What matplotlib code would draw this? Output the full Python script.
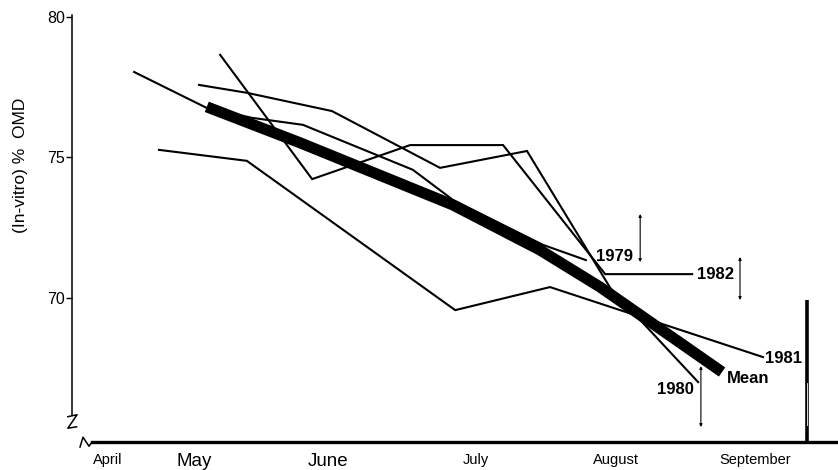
import numpy as np
import matplotlib
matplotlib.use('Agg')
import matplotlib.pyplot as plt

plt.rcParams['font.family'] = ['Liberation Sans', 'DejaVu Sans']

# x = days along the season, y = in-vitro OMD %
x_1979 = [13.5, 29.3, 39.1, 50.2, 74.1, 82.8, 102.4, 111.7]
y_1979 = [78.04, 76.76, 76.41, 76.16, 74.56, 73.49, 71.89, 71.35]

x_1980 = [27.6, 38.0, 56.5, 80.0, 98.9, 117.0, 123.5, 136.1]
y_1980 = [77.58, 77.30, 76.65, 74.63, 75.23, 70.36, 69.22, 67.01]

x_1981 = [18.9, 38.0, 83.3, 103.9, 150.2]
y_1981 = [75.27, 74.88, 69.57, 70.39, 67.90]

x_1982 = [32.2, 52.2, 73.5, 93.7, 115.9, 134.8]
y_1982 = [78.65, 74.23, 75.44, 75.44, 70.85, 70.85]

x_mean = [29.3, 49.6, 82.8, 101.7, 114.8, 123.5, 141.3]
y_mean = [76.80, 75.52, 73.31, 71.71, 70.39, 69.40, 67.37]

# range bars next to the end labels
range_x = [123.5, 145.2, 136.7]
range_lo = [71.28, 69.93, 65.41]
range_hi = [72.99, 71.46, 67.58]
big_x = 159.8
big_hi = 69.93

months = ['April', 'May', 'June', 'July', 'August', 'September']
month_pos = [7.8, 26.5, 55.7, 87.8, 118.3, 148.5]

end_labels = ['1979', '1982', '1981', 'Mean', '1980']
end_x = [113.9, 135.9, 150.7, 142.4, 135.2]
end_y = [71.49, 70.82, 67.86, 67.15, 66.73]
end_ha = ['left', 'left', 'left', 'left', 'right']

fig = plt.figure(figsize=(8.38, 4.7), dpi=100)
ax = fig.add_axes([72 / 838, 28 / 470, 766 / 838, 442 / 470])
ax.set_xlim(0, 166.5)
ax.set_ylim(64.88, 80.60)

for xs, ys in [(x_1979, y_1979), (x_1980, y_1980), (x_1981, y_1981), (x_1982, y_1982)]:
    ax.plot(xs, ys, color='black', lw=1.5, solid_joinstyle='miter')
ax.plot(x_mean, y_mean, color='black', lw=8, solid_capstyle='butt', solid_joinstyle='round')

for xr, lo, hi in zip(range_x, range_lo, range_hi):
    ax.annotate('', xy=(xr, lo), xytext=(xr, hi),
                arrowprops=dict(arrowstyle='<|-|>', lw=0.8, color='black',
                                mutation_scale=4, shrinkA=0, shrinkB=0))
ax.plot([big_x, big_x], [64.88, big_hi], color='black', lw=2.6, clip_on=False,
        solid_capstyle='butt')
ax.plot([big_x, big_x], [65.48, 66.98], color='white', lw=0.6)

for t, xl, yl, ha in zip(end_labels, end_x, end_y, end_ha):
    ax.text(xl, yl, t, ha=ha, va='center', fontsize=12, fontweight='bold')

# axes
for s in ['top', 'right']:
    ax.spines[s].set_visible(False)
ax.spines['left'].set_bounds(65.84, 80.05)
ax.spines['left'].set_linewidth(1.1)
ax.spines['bottom'].set_bounds(4.35, 166.5)
ax.spines['bottom'].set_linewidth(2.4)

ax.set_yticks([70, 75, 80])
ax.tick_params(axis='y', direction='out', length=4, width=1, labelsize=11.5, pad=1)
ax.set_xticks(month_pos)
ax.set_xticklabels(months)
ax.tick_params(axis='x', length=0, pad=8, labelsize=10.5)
for lab in ax.get_xticklabels():
    if lab.get_text() in ('May', 'June'):
        lab.set_family(['Liberation Sans Narrow', 'Liberation Sans'])
        lab.set_fontsize(13.5)

ax.set_ylabel('(In-vitro) %  OMD', fontsize=12.5)
ax.yaxis.set_label_coords(-0.058, 0.627)

# axis break marks
ax.plot([-0.9, 1.1, -0.9, 1.0], [65.78, 65.85, 65.37, 65.42], color='black', lw=1.1,
        clip_on=False)
ax.plot([1.74, 2.39, 3.7, 4.35], [64.70, 65.05, 64.73, 64.88], color='black', lw=1.1,
        clip_on=False)

fig.savefig('out.png', dpi=100, facecolor='white')
